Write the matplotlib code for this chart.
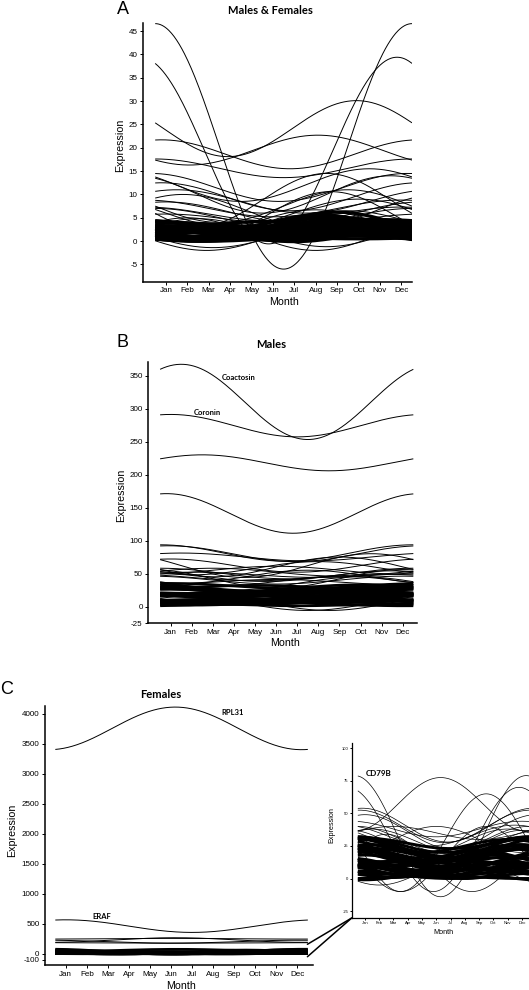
import numpy as np
import matplotlib
matplotlib.use('Agg')
import matplotlib.pyplot as plt
from matplotlib.patches import ConnectionPatch

plt.rcParams['font.family'] = ['Liberation Sans', 'DejaVu Sans']
plt.rcParams['axes.unicode_minus'] = False

MONTHS = ['Jan', 'Feb', 'Mar', 'Apr', 'May', 'Jun',
          'Jul', 'Aug', 'Sep', 'Oct', 'Nov', 'Dec']

# Each gene is a cosinor fit: mesor, amplitude and peak month

# --- A: Males & Females ---
A_MESOR = [20.3, 19.4, 24.1, 18.6, 19.5, 8.8, 15.6, 11.5, 9.5, 8.5, 6.5, 7.0,
           5.0, 4.6, 5.5, 3.8, 1.0, 1.2, 1.5, 1.8, 10.0, 12.0, 7.5,
           5.8, 6.2, 4.0, 6.0]
A_AMP = [26.3, 20.0, 6.0, 3.1, 3.2, 5.7, 2.0, 3.0, 3.0, 2.5, 3.5, 1.8,
         2.0, 1.2, 5.1, 2.9, 3.0, 2.6, 3.5, 3.0, 4.0, 3.5, 3.5,
         1.5, 2.2, 2.5, 3.0]
A_PEAK = [0.5, 11.8, 9.9, 0.8, 8.1, 8.5, 0.5, 0.3, 0.8, 1.5, 1.8, 12.0,
          0.5, 1.0, 8.7, 8.0, 8.9, 9.2, 2.0, 2.5, 11.5, 10.5, 9.5,
          0.0, 1.0, 9.5, 10.0]
A_BAND_MESOR = [0.6, 0.9, 1.1, 1.3, 1.5, 1.7, 1.9, 2.1, 2.3, 2.5, 2.7, 2.9, 3.1,
                3.3, 3.5, 1.2, 2.0, 2.6, 3.0, 3.4, 1.6, 2.4, 2.8, 3.2, 3.8, 3.0, 2.2,
                0.8, 1.4, 2.0, 2.6, 3.6]
A_BAND_AMP = [0.6, 0.9, 0.7, 1.2, 0.5, 1.4, 0.8, 1.6, 0.6, 1.8, 1.0, 2.2, 0.8,
              1.5, 0.9, 1.1, 1.9, 2.6, 1.2, 2.8, 1.7, 0.4, 1.3, 2.4, 0.8, 1.2, 1.0,
              0.3, 0.5, 0.3, 0.4, 0.5]
A_BAND_PEAK = [9.0, 8.5, 11.0, 8.0, 1.0, 9.5, 12.0, 8.5, 2.0, 9.0, 10.5, 8.8, 1.5,
               9.5, 11.5, 0.5, 9.0, 8.5, 12.0, 9.0, 1.0, 6.0, 10.0, 8.2, 11.0, 5.5, 6.0,
               4.0, 7.0, 3.0, 5.0, 12.0]

# --- B: Males ---
B_MESOR = [310, 274, 217.7, 141, 81, 80, 75, 62, 62, 60, 50, 45, 48, 44, 40,
           38, 55, 42, 35, 5, 6, 52, 46, 37, 58]
B_AMP = [57, 17, 12.1, 30, 12.5, 12, 6, 10, 18, 15, 8, 10, 4, 5, 6,
         8, 6, 14, 10, 11, 12, 6, 8, 4, 10]
B_PEAK = [1.5, 1.0, 2.5, 0.8, 0.5, 0.9, 1.5, 1.0, 10.5, 9.0, 0.5, 7.5, 2.0, 11.0, 0.0,
          9.0, 6.0, 12.0, 10.0, 1.5, 2.5, 3.0, 11.5, 6.0, 8.0]
B_BAND_MESOR = [3, 5, 7, 9, 11, 13, 15, 17, 19, 21, 23, 25, 27, 29, 31,
                4, 8, 12, 16, 20, 24, 28, 6, 10, 14, 18]
B_BAND_AMP = [2, 3, 4, 2, 5, 3, 6, 2, 4, 5, 3, 4, 5, 3, 4,
              3, 5, 6, 4, 3, 6, 5, 4, 3, 5, 2]
B_BAND_PEAK = [1, 8, 11, 3, 9, 12, 7, 2, 10, 1, 8, 11, 12, 5, 1,
               6, 9, 2, 11, 7, 12, 10, 4, 8, 1, 9]

# --- C: Females (high expressed genes) ---
C_MESOR = [3755, 460, 250, 228, 200, 180]
C_AMP = [355, 105, 6, 38, 25, 4]
C_PEAK = [6.2, 1.0, 6.0, 6.2, 12.0, 0.0]

# --- C inset: Females, low expressed genes (first one is CD79B) ---
F_MESOR = [32.5, 57, 27.5, 30, 41, 40, 36, 30, 28, 30, 15, 12, 5, 35, 25,
           33, 38, 29]
F_AMP = [46.5, 20.5, 37.5, 40, 13, 12.5, 13, 10, 10, 10, 25, 22, 10, 5, 12,
         8, 6, 9]
F_PEAK = [0.3, 6.3, 9.5, 11.8, 0.8, 0.6, 1.0, 0.5, 11.0, 6.0, 9.5, 2.5, 8.0, 3.0, 12.0,
          11.5, 0.0, 1.5]
F_BAND_MESOR = [2, 4, 6, 8, 10, 12, 14, 16, 18, 20, 22, 3, 7, 11, 15, 19,
                5, 9, 13, 17, 21, 24, 26,
                1, 3.5, 5.5, 7.5, 9.5, 11.5, 13.5, 15.5, 17.5, 19.5, 23, 25, 27]
F_BAND_AMP = [2, 3, 4, 5, 3, 6, 4, 7, 5, 6, 8, 4, 6, 3, 8, 7,
              5, 7, 4, 6, 5, 7, 6,
              1, 2.5, 3.5, 4.5, 6, 5, 7, 6, 8, 4, 9, 5, 4]
F_BAND_PEAK = [1, 9, 12, 11, 2, 1, 10, 12, 0.5, 11.5, 1, 7, 9, 4, 12, 0,
               2, 10, 6, 11, 1.5, 12, 0.5,
               6, 12, 1, 10, 0, 11, 1.5, 9, 12, 1, 0.5, 11, 1]

T = np.linspace(0.5, 12.5, 300)
W, H = 529, 990


def cosinor(mesor, amp, peak):
    return mesor + amp * np.cos(2 * np.pi * (T - peak) / 12.0)


def draw_curves(ax, mesors, amps, peaks, lw):
    for m, a, p in zip(mesors, amps, peaks):
        ax.plot(T, cosinor(m, a, p), color='black', lw=lw, solid_capstyle='butt')


def px_axes(left, top, right, bottom):
    # pixel box -> figure fraction
    return [left / W, 1 - bottom / H, (right - left) / W, (bottom - top) / H]


def style_axis(ax, xlim, ylim, yticks, size, spine_lw=1.1, tick_len=2.5):
    ax.set_xlim(*xlim)
    ax.set_ylim(*ylim)
    for s in ['top', 'right']:
        ax.spines[s].set_visible(False)
    for s in ['left', 'bottom']:
        ax.spines[s].set_linewidth(spine_lw)
    ax.set_xticks(range(1, 13))
    ax.set_xticklabels(MONTHS)
    ax.set_yticks(yticks)
    ax.tick_params(direction='out', length=tick_len, width=0.7, labelsize=size, pad=1.5)


def ftext(x, y, s, **kw):
    fig.text(x / W, 1 - y / H, s, ha='center', va='center', **kw)


fig = plt.figure(figsize=(W / 100, H / 100), dpi=100)

# Panel A
axA = fig.add_axes(px_axes(143, 22.7, 412, 281.7))
draw_curves(axA, A_BAND_MESOR, A_BAND_AMP, A_BAND_PEAK, 2.4)
draw_curves(axA, A_MESOR, A_AMP, A_PEAK, 0.7)
style_axis(axA, (-0.07, 12.5), (-8.7, 46.8), range(-5, 50, 5), 5.8)

# Panel B
axB = fig.add_axes(px_axes(148.3, 362.3, 416.7, 623))
draw_curves(axB, B_BAND_MESOR, B_BAND_AMP, B_BAND_PEAK, 1.9)
draw_curves(axB, B_MESOR, B_AMP, B_PEAK, 0.7)
style_axis(axB, (-0.06, 12.66), (-25, 370), [-25, 0, 50, 100, 150, 200, 250, 300, 350], 5.8)
axB.text(4.24, 347, 'Coactosin', fontsize=5.5, fontweight='bold', family='Lato',
         ha='center', va='center')
axB.text(2.75, 294, 'Coronin', fontsize=5.5, fontweight='bold', family='Lato',
         ha='center', va='center')

# Panel C main
axC = fig.add_axes(px_axes(45, 706, 313.3, 965))
draw_curves(axC, F_BAND_MESOR, F_BAND_AMP, F_BAND_PEAK, 1.6)
draw_curves(axC, F_MESOR, F_AMP, F_PEAK, 1.6)
draw_curves(axC, C_MESOR, C_AMP, C_PEAK, 0.7)
style_axis(axC, (0.01, 12.76), (-188, 4128), [-100, 0] + list(range(500, 4001, 500)), 5.8)
axC.text(8.94, 4020, 'RPL31', fontsize=5.5, fontweight='bold', family='Lato',
         ha='center', va='center')
axC.text(2.71, 628, 'ERAF', fontsize=5.5, fontweight='bold', family='Lato',
         ha='center', va='center')

# Panel C inset
axI = fig.add_axes(px_axes(351.7, 743.3, 529, 918))
draw_curves(axI, F_BAND_MESOR, F_BAND_AMP, F_BAND_PEAK, 2.1)
draw_curves(axI, F_MESOR, F_AMP, F_PEAK, 0.5)
style_axis(axI, (0.07, 12.5), (-30.3, 103.8), [-25, 0, 25, 50, 75, 100], 3.0,
           spine_lw=0.9, tick_len=1.5)
axI.tick_params(pad=1)
axI.text(1.96, 80.6, 'CD79B', fontsize=5.8, fontweight='bold', family='Lato',
         ha='center', va='center')

# zoom lines from main C band to inset corner
for yv in [157, -50]:
    con = ConnectionPatch(xyA=(12.48, yv), coordsA=axC.transData,
                          xyB=(0, 0), coordsB=axI.transAxes,
                          color='black', lw=1.1)
    fig.add_artist(con)

# titles, panel letters and axis titles
ftext(270, 10, 'Males & Females', fontsize=8, fontweight='bold', family='Lato')
ftext(270.7, 345, 'Males', fontsize=8, fontweight='bold', family='Lato')
ftext(161, 694, 'Females', fontsize=8, fontweight='bold', family='Lato')
ftext(123, 9, 'A', fontsize=13)
ftext(122, 342.5, 'B', fontsize=13)
ftext(7, 690, 'C', fontsize=13)

ftext(120, 145, 'Expression', fontsize=7.7, rotation=90)
ftext(121, 495, 'Expression', fontsize=7.7, rotation=90)
ftext(12, 830, 'Expression', fontsize=7.7, rotation=90)
ftext(332, 825, 'Expression', fontsize=5.2, rotation=90)
ftext(284, 302, 'Month', fontsize=7.7)
ftext(285, 643, 'Month', fontsize=7.7)
ftext(181, 986, 'Month', fontsize=7.7)
ftext(443, 932, 'Month', fontsize=5.2)

fig.savefig('out.png', dpi=100)
